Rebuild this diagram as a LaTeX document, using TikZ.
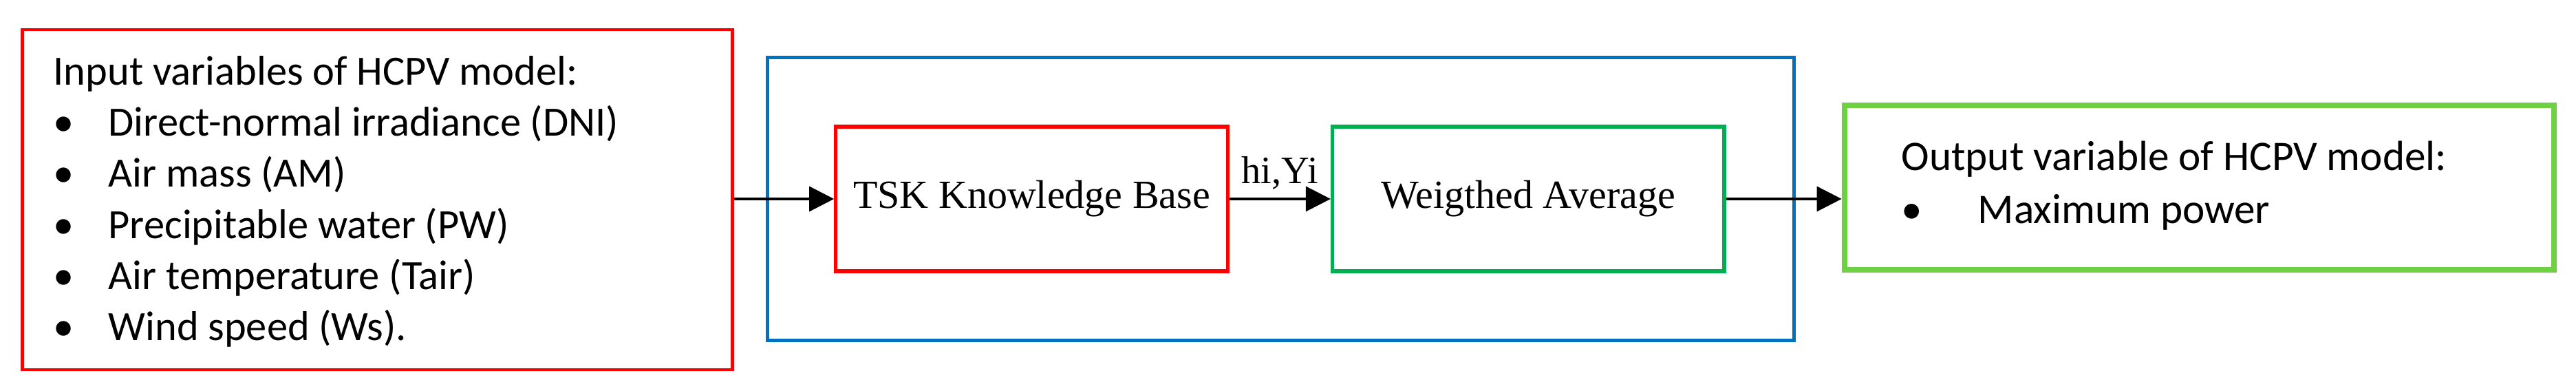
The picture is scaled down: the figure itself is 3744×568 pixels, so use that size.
\documentclass[tikz,border=0pt]{standalone}
\usepackage{fontspec}
\setmainfont{Liberation Serif}
\newfontfamily\calibri{Carlito}
\usetikzlibrary{arrows.meta, positioning}

\definecolor{boxred}{RGB}{255,0,0}
\definecolor{boxblue}{RGB}{0,112,192}
\definecolor{boxgreen}{RGB}{0,176,80}
\definecolor{boxlime}{RGB}{112,208,68}

\tikzset{
	varbox/.style={draw, rectangle, inner sep=0pt},
	block/.style={draw, rectangle, inner sep=0pt, line width=1.5pt, minimum width=5.69cm, minimum height=2.1cm, font=\fontsize{16.5}{19}\selectfont},
	vartext/.style={anchor=base west, align=left, inner sep=0pt},
	flow/.style={-{Triangle[length=0.36cm, width=0.36cm]}, line width=1pt}
}

\begin{document}
\begin{tikzpicture}[x=0.01cm, y=-0.01cm]
	\useasboundingbox (0,0) rectangle (3744,568);
	\node[varbox, draw=boxred, line width=1.3pt, minimum width=10.31cm, minimum height=4.94cm] (inputs) at (548.5,290) {};
	% anchor base = baseline of the last line
	\node[vartext, font=\calibri\fontsize{17.2}{21.1}\selectfont] (inlist) at (77,494.6) {Input variables of HCPV model:\\
		\makebox[0.8cm][l]{•}Direct-normal irradiance (DNI)\\
		\makebox[0.8cm][l]{•}Air mass (AM)\\
		\makebox[0.8cm][l]{•}Precipitable water (PW)\\
		\makebox[0.8cm][l]{•}Air temperature (Tair)\\
		\makebox[0.8cm][l]{•}Wind speed (Ws).};
	\node[varbox, draw=boxblue, line width=1.6pt, minimum width=14.91cm, minimum height=4.11cm] (fis) at (1861.5,289) {};
	\node[block, draw=boxred] (tsk) at (1499.5,289) {TSK Knowledge Base};
	\node[block, draw=boxgreen] (wavg) [right=1.47cm of tsk] {Weigthed Average};
	\node[varbox, draw=boxlime, line width=2.3pt, minimum width=10.31cm, minimum height=2.39cm] (outputs) at (3196.5,272.5) {};
	\node[vartext, font=\calibri\fontsize{17.4}{21.9}\selectfont] (outlist) at (2763,325) {Output variable of HCPV model:\\
		\makebox[1.11cm][l]{•}Maximum power};
	\draw[flow] (inputs.east |- tsk.west) -- (tsk.west);
	\draw[flow] (tsk.east) -- node[above=0pt, font=\fontsize{16}{19}\selectfont] {hi,Yi} (wavg.west);
	\draw[flow] (wavg.east) -- (wavg.east -| outputs.west);
\end{tikzpicture}
\end{document}
